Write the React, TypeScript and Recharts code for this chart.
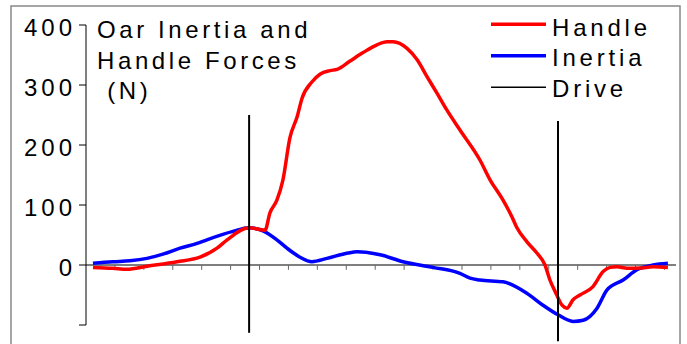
import React from 'react'
import { LineChart, Line, XAxis, YAxis, ReferenceLine } from 'recharts'

// handle force (N), time in x-axis tick units
const handleT = [0.24, 0.93, 1.42, 2.11, 3.15, 3.94, 4.53, 4.88, 5.64, 6.19, 6.36, 6.6, 6.81, 7.05, 7.3, 7.47, 7.81, 8.09, 8.44, 8.68, 9.13, 9.58, 10.06, 10.41, 10.62, 11.1, 11.45, 11.79, 12.14, 12.48, 12.93, 13.62, 13.97, 14.42, 14.73, 14.9, 15.24, 15.59, 15.87, 16.04, 16.22, 16.46, 16.63, 16.84, 17.08, 17.53, 17.88, 18.12, 18.36, 18.71, 19.16, 19.61, 20.12]
const handleN = [-4, -5.5, -7, -2, 5.5, 13, 28, 42, 62, 58, 87, 108, 142, 212, 247, 278, 305, 318, 324, 326, 340, 354, 367, 372, 372, 361, 342, 314, 286, 258, 225, 175, 142, 108, 80, 62, 39, 20, 0, -25, -44, -67, -72, -58, -50, -36, -11, -4, -3, -5.5, -5, -3, -4]

// oar inertia (N)
const inertiaT = [0.24, 0.93, 1.52, 2.11, 2.66, 3.25, 3.84, 4.18, 5.08, 5.64, 6.12, 6.6, 6.95, 7.4, 7.81, 8.33, 9.06, 9.37, 10.17, 10.96, 12.0, 12.93, 13.28, 13.62, 14.42, 15.24, 15.8, 16.32, 16.84, 17.19, 17.67, 18.01, 18.57, 19.05, 19.61, 20.12]
const inertiaN = [3, 5.5, 7, 11, 18, 28, 36, 42, 56, 62, 57, 42, 28, 13, 5.5, 11, 20, 22, 17, 5.5, -4, -14, -22, -25, -28, -47, -67, -83, -94, -92, -72, -42, -25, -8, 0, 3]

// start / end of drive
const driveT = [5.64, 16.32]
const driveTop = [250, 240]
const driveBottom = [-113, -127]

const xTicks = [1, 2, 3, 4, 5, 6, 7, 8, 9, 10, 11, 12, 13, 14, 15, 16, 17, 18, 19, 20]
const yTicks = [-100, 0, 100, 200, 300, 400]

const titleLines = ['Oar Inertia and', 'Handle Forces', ' (N)']
const legendItems = [
  { name: 'Handle', color: '#ff0000', width: 3.5 },
  { name: 'Inertia', color: '#0000ff', width: 3.5 },
  { name: 'Drive', color: '#000000', width: 1.5 },
]

const font = '"Liberation Sans", Arial, sans-serif'

const handleData = handleT.map((t, i) => ({ t, v: handleN[i] }))
const inertiaData = inertiaT.map((t, i) => ({ t, v: inertiaN[i] }))

const YTick = ({ x, y, payload }: any) => (
  <text x={x} y={y} dy={11} textAnchor="end" fontSize={24} fontFamily={font} letterSpacing={4} fill="#000">
    {payload.value === -100 ? '' : payload.value}
  </text>
)

const App = () => {
  return (
    <div style={{ position: 'absolute', left: 0, top: 0, width: 687, height: 344, background: '#fff' }}>
      <LineChart width={687} height={344} margin={{ top: 25, right: 11, bottom: 19, left: 16 }}>
        <XAxis dataKey="t" type="number" domain={[0, 20.4]} hide allowDuplicatedCategory={false} />
        <YAxis
          type="number"
          domain={[-100, 400]}
          ticks={yTicks}
          width={70}
          tickSize={7}
          tickMargin={3}
          axisLine={{ stroke: '#000', strokeWidth: 1 }}
          tickLine={{ stroke: '#000', strokeWidth: 1 }}
          tick={<YTick />}
        />
        <ReferenceLine y={0} stroke="#000" strokeWidth={1.2} />
        {xTicks.map((t) => (
          <ReferenceLine key={t} segment={[{ x: t, y: 0 }, { x: t, y: -8 }]} stroke="#666" strokeWidth={1} />
        ))}
        <Line data={inertiaData} dataKey="v" type="monotone" stroke="#0000ff" strokeWidth={3.5} dot={false} isAnimationActive={false} />
        <Line data={handleData} dataKey="v" type="monotone" stroke="#ff0000" strokeWidth={3.5} dot={false} isAnimationActive={false} />
        {driveT.map((t, i) => (
          <ReferenceLine
            key={'d' + i}
            segment={[{ x: t, y: driveBottom[i] }, { x: t, y: driveTop[i] }]}
            stroke="#000"
            strokeWidth={2}
            ifOverflow="visible"
          />
        ))}
      </LineChart>
      <svg width={687} height={344} style={{ position: 'absolute', left: 0, top: 0, pointerEvents: 'none' }}>
        <rect x={11} y={6} width={669} height={360} fill="none" stroke="#888" strokeWidth={1.5} />
        {titleLines.map((s, i) => (
          <text key={i} x={97} y={38 + i * 30.7} fontSize={24} fontFamily={font} letterSpacing={3.6} fill="#000" style={{ whiteSpace: 'pre' }}>
            {s}
          </text>
        ))}
        {legendItems.map((it, i) => (
          <g key={it.name}>
            <line x1={491} x2={546} y1={24.3 + i * 31.5} y2={24.3 + i * 31.5} stroke={it.color} strokeWidth={it.width} />
            <text x={552} y={35.7 + i * 30.5} fontSize={24} fontFamily={font} letterSpacing={3.8} fill="#000">
              {it.name}
            </text>
          </g>
        ))}
      </svg>
    </div>
  )
}

export default App
